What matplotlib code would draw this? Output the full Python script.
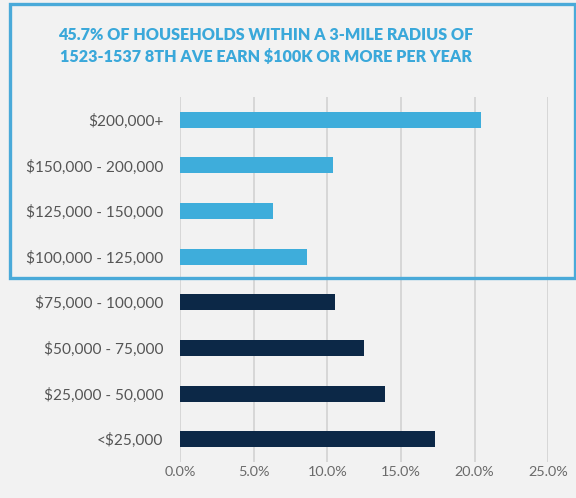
import matplotlib
matplotlib.use("Agg")
import matplotlib.pyplot as plt
from matplotlib.patches import Rectangle

categories = ["<$25,000", "$25,000 - 50,000", "$50,000 - 75,000", "$75,000 - 100,000",
              "$100,000 - 125,000", "$125,000 - 150,000", "$150,000 - 200,000", "$200,000+"]
values = [17.3, 13.9, 12.5, 10.5, 8.6, 6.3, 10.4, 20.4]
highlight = [False, False, False, False, True, True, True, True]
x_ticks = [0, 5, 10, 15, 20, 25]
x_tick_labels = ["0.0%", "5.0%", "10.0%", "15.0%", "20.0%", "25.0%"]
title = "45.7% OF HOUSEHOLDS WITHIN A 3-MILE RADIUS OF\n1523-1537 8TH AVE EARN $100K OR MORE PER YEAR"

W, H = 576, 498
bg = "#f2f2f2"
light = "#3eaddb"
dark = "#0c2847"
fig = plt.figure(figsize=(W / 100, H / 100), dpi=100, facecolor=bg)
ax = fig.add_axes([180 / W, 1 - 462 / H, 368.3 / W, 365 / H], facecolor=bg)

ypos = list(range(len(categories)))
colors = [light if h else dark for h in highlight]
ax.barh(ypos, values, height=0.35, color=colors, zorder=3)
ax.set_xlim(0, 25)
ax.set_ylim(-0.5, 7.5)
ax.set_xticks(x_ticks)
ax.set_xticklabels(x_tick_labels, family="Lato", fontsize=10.4, color="#6a6a6a")
ax.set_yticks(ypos)
ax.set_yticklabels(categories, family="Lato", fontsize=11.1, color="#555555")
ax.tick_params(axis="both", length=0)
ax.tick_params(axis="x", pad=3)
ax.tick_params(axis="y", pad=12)
ax.grid(axis="x", color="#d2d2d2", linewidth=1.2, zorder=0)
ax.grid(axis="y", visible=False)
for s in ax.spines.values():
    s.set_visible(False)

fig.text(266 / W, 1 - 46 / H, title, ha="center", va="center", family="Lato",
         fontweight="heavy", fontsize=11.6, color="#3aa8da", linespacing=1.45)

box = Rectangle((9.5 / W, 1 - 278 / H), 565 / W, 273.5 / H, transform=fig.transFigure,
                fill=False, edgecolor="#4aaad9", linewidth=2.4, zorder=10)
fig.add_artist(box)

fig.savefig("out.png", dpi=100, facecolor=bg)
